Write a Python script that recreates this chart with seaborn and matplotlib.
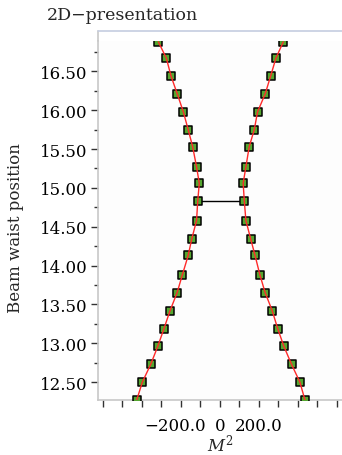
import matplotlib
matplotlib.use("Agg")
import matplotlib.pyplot as plt
import matplotlib.transforms as mtrans
import seaborn as sns
import pandas as pd
from matplotlib.lines import Line2D
from matplotlib.ticker import FixedLocator, FixedFormatter

# beam waist position (same for both branches)
z = [16.88, 16.67, 16.44, 16.21, 15.98, 15.75, 15.53, 15.27, 15.06, 14.83, 14.58,
     14.34, 14.13, 13.88, 13.65, 13.42, 13.19, 12.96, 12.73, 12.50, 12.27]
# M^2 values, left and right branch
m2_left = [-316, -275, -251, -219, -188, -163, -140, -120, -106, -114, -120,
           -145, -163, -193, -220, -256, -287, -319, -355, -398, -427]
m2_right = [325, 287, 260, 232, 193, 176, 150, 133, 119, 125, 133,
            158, 180, 205, 232, 268, 296, 328, 367, 410, 436]
waist_idx = 9

xtick_pos = [-600, -500, -400, -300, -200, -100, 0, 100, 200, 300, 400, 500, 600]
xtick_lab = ["", "", "", "", "\u2212200.0", "", "0", "", "200.0", "", "", "", ""]
ytick_pos = [12.50, 13.00, 13.50, 14.00, 14.50, 15.00, 15.50, 16.00, 16.50]
ytick_minor = [12.75, 13.25, 13.75, 14.25, 14.75, 15.25, 15.75, 16.25, 16.75]

sns.set_theme(style="ticks")
plt.rcParams['font.family'] = ['DejaVu Serif']
plt.rcParams['mathtext.fontset'] = 'dejavuserif'

fig = plt.figure(figsize=(3.42, 4.56), dpi=100)
# plotting area ends slightly below the light frame line at the top
ax_bottom, ax_top = 1 - 401 / 456, 1 - 42.3 / 456
ax = fig.add_axes([0.288, ax_bottom, 0.712, ax_top - ax_bottom])
ax.set_facecolor("#fdfdfd")

df_l = pd.DataFrame({"m2": m2_left, "z": z})
df_r = pd.DataFrame({"m2": m2_right, "z": z})

for d in (df_l, df_r):
    sns.scatterplot(data=d, x="m2", y="z", marker="s", s=30, color="#55a630",
                    edgecolor="black", linewidth=1.1, ax=ax, zorder=3)
    sns.lineplot(data=d, x="m2", y="z", sort=False, estimator=None, color="#ff2a2a",
                 lw=1.0, ax=ax, zorder=4)

ax.plot([m2_left[waist_idx], m2_right[waist_idx]], [z[waist_idx], z[waist_idx]],
        color="black", lw=1.0, zorder=2)

ax.set_xlim(-623, 626)
ax.set_ylim(12.27, 16.887)

ax.xaxis.set_major_locator(FixedLocator(xtick_pos))
ax.xaxis.set_major_formatter(FixedFormatter(xtick_lab))
ax.yaxis.set_major_locator(FixedLocator(ytick_pos))
ax.yaxis.set_major_formatter(FixedFormatter([f"{v:.2f}" for v in ytick_pos]))
ax.yaxis.set_minor_locator(FixedLocator(ytick_minor))

ax.tick_params(axis="both", which="major", labelsize=12, color="#333333",
               length=5, width=1, labelcolor="black")
ax.tick_params(axis="x", which="major", pad=7)
ax.tick_params(axis="y", which="major", pad=3)
ax.tick_params(axis="y", which="minor", length=3, width=1, color="#333333")

for side in ("left", "bottom"):
    ax.spines[side].set_color("#c8c8c8")
    ax.spines[side].set_linewidth(1.2)
ax.spines["top"].set_visible(False)
ax.spines["right"].set_visible(False)

# frame: left spine extension and light top line
y_frame = 1 - 32 / 456
fig.add_artist(Line2D([0.288, 0.288], [ax_top, y_frame], color="#c8c8c8", lw=1.2))
fig.add_artist(Line2D([0.288, 1.0], [y_frame, y_frame], color="#c5cde0", lw=1.2))

# nudge the negative label slightly left, as in the reference
offset = mtrans.ScaledTranslation(-6 / 100, 0, fig.dpi_scale_trans)
for lab in ax.get_xticklabels():
    if lab.get_text().startswith("\u2212"):
        lab.set_transform(lab.get_transform() + offset)

ax.set_xlabel("$M^2$", fontsize=12, labelpad=-1)
ax.set_ylabel("Beam waist position", fontsize=12)
ax.yaxis.set_label_coords(-0.307, 0.482)
fig.text(0.137, 0.965, "2D\u2212presentation", fontsize=12.5, ha="left", va="center")

fig.savefig("out.png", dpi=100)
